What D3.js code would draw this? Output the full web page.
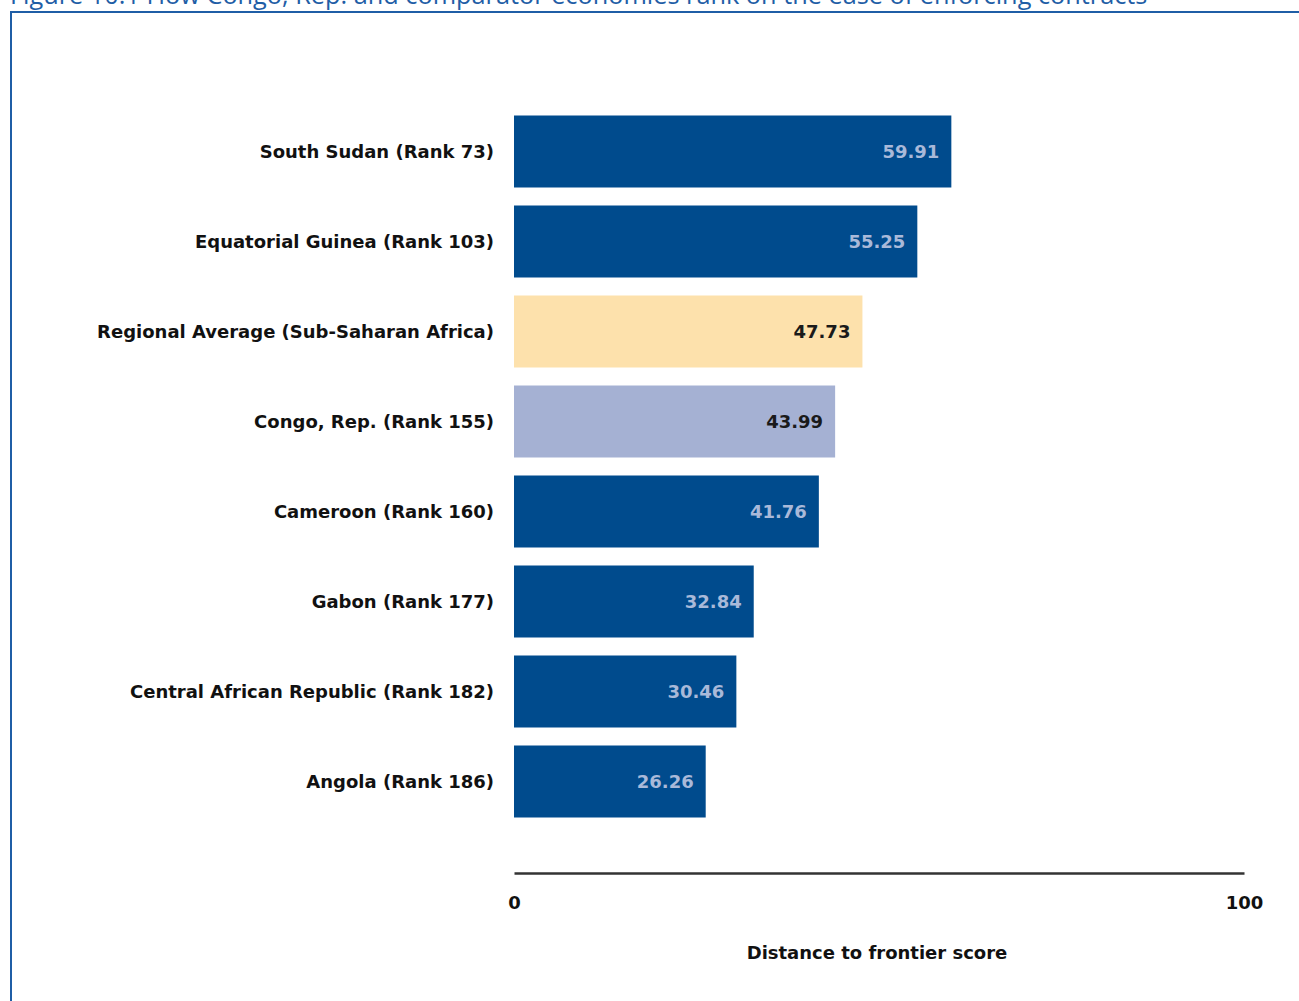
<!DOCTYPE html>
<html>
<head>
<meta charset="utf-8">
<script src="https://cdn.jsdelivr.net/npm/d3@7"></script>
<style>
  html, body { margin: 0; padding: 0; background: #fff; }
  svg { display: block; }
</style>
</head>
<body>
<svg id="chart" width="1299" height="1001"></svg>
<script>
const titleText = "Figure 10.1 How Congo, Rep. and comparator economies rank on the ease of enforcing contracts";
const categories = [
  "South Sudan (Rank 73)",
  "Equatorial Guinea (Rank 103)",
  "Regional Average (Sub-Saharan Africa)",
  "Congo, Rep. (Rank 155)",
  "Cameroon (Rank 160)",
  "Gabon (Rank 177)",
  "Central African Republic (Rank 182)",
  "Angola (Rank 186)"
];
const values = [59.91, 55.25, 47.73, 43.99, 41.76, 32.84, 30.46, 26.26];
const barTypes = ["comparator", "comparator", "regional", "focus", "comparator", "comparator", "comparator", "comparator"];
const tickValues = [0, 100];
const axisTitle = "Distance to frontier score";

const fillColor = { comparator: "#004b8d", regional: "#fde1ac", focus: "#a5b1d3" };
const labelColor = { comparator: "#a9b9d9", regional: "#1a1a1a", focus: "#1a1a1a" };

const svg = d3.select("#chart");
const titleFont = "'Open Sans', 'Noto Sans', sans-serif";
const font = "'DejaVu Sans', Verdana, sans-serif";
const fs = 18;

// Frame
svg.append("line").attr("x1", 10).attr("x2", 1299).attr("y1", 12).attr("y2", 12)
  .attr("stroke", "#1f5ea6").attr("stroke-width", 2);
svg.append("line").attr("x1", 11).attr("x2", 11).attr("y1", 12).attr("y2", 1001)
  .attr("stroke", "#1f5ea6").attr("stroke-width", 2);

// Title (cut off at top as in the reference)
svg.append("text").attr("x", 10).attr("y", 4)
  .attr("font-family", titleFont).attr("font-size", 25.3).attr("fill", "#1f5ea6")
  .text(titleText);

const x = d3.scaleLinear().domain([0, 100]).range([514, 1244]);
const y = d3.scaleBand().domain(categories).range([106, 826]).paddingInner(0.2).paddingOuter(0.1);

const data = categories.map((c, i) => ({ c, v: values[i], t: barTypes[i] }));

svg.append("g").selectAll("rect").data(data).join("rect")
  .attr("x", x(0))
  .attr("y", d => y(d.c) + 0.5)
  .attr("width", d => x(d.v) - x(0))
  .attr("height", y.bandwidth())
  .attr("fill", d => fillColor[d.t]);

// Value labels
svg.append("g").selectAll("text").data(data).join("text")
  .attr("x", d => x(d.v) - 12)
  .attr("y", d => y(d.c) + y.bandwidth() / 2 + 1)
  .attr("dy", "0.35em")
  .attr("text-anchor", "end")
  .attr("font-family", font).attr("font-weight", 700).attr("font-size", fs)
  .attr("fill", d => labelColor[d.t])
  .text(d => d.v.toFixed(2));

// Category labels
svg.append("g").selectAll("text").data(data).join("text")
  .attr("x", 494)
  .attr("y", d => y(d.c) + y.bandwidth() / 2 + 1)
  .attr("dy", "0.35em")
  .attr("text-anchor", "end")
  .attr("font-family", font).attr("font-weight", 700).attr("font-size", fs)
  .attr("fill", "#111")
  .text(d => d.c);

// X axis
const axis = d3.axisBottom(x).tickValues(tickValues).tickSize(0).tickPadding(23)
  .tickFormat(d3.format("d"));
const gx = svg.append("g").attr("transform", "translate(0,873)").call(axis);
gx.select(".domain").attr("stroke", "#333").attr("stroke-width", 2.5);
gx.selectAll("text").attr("font-family", font).attr("font-weight", 700)
  .attr("font-size", fs).attr("fill", "#111");

svg.append("text").attr("x", 877).attr("y", 953).attr("dy", "0.35em")
  .attr("text-anchor", "middle")
  .attr("font-family", font).attr("font-weight", 700).attr("font-size", fs)
  .attr("fill", "#111").text(axisTitle);
</script>
</body>
</html>
